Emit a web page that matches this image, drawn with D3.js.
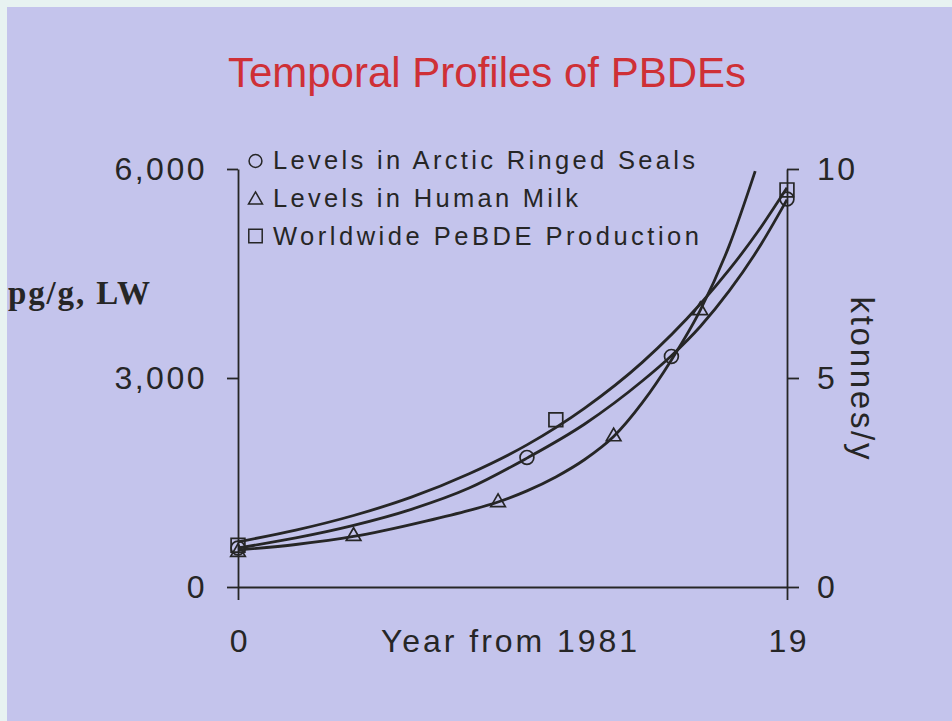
<!DOCTYPE html>
<html>
<head>
<meta charset="utf-8">
<script src="https://cdn.jsdelivr.net/npm/d3@7"></script>
<style>
  html, body { margin: 0; padding: 0; background: #c4c4ec; }
  svg { display: block; }
</style>
</head>
<body>
<svg id="chart" width="952" height="721"></svg>
<script>
// Measured levels (pg/g lipid weight) and production (ktonnes/y), by year from 1981
const sealYears = [0, 10, 15, 19];
const sealValues = [560, 1860, 3310, 5570];
const milkYears = [0, 4, 9, 13, 16];
const milkValues = [500, 730, 1215, 2160, 3970];
const prodYears = [0, 11, 19];
const prodValues = [1.0, 4.0, 9.5];

// Fitted trend curves
const sealFitYears = [0, 2, 4, 6, 8, 10, 12, 14, 15, 16, 17, 18, 19];
const sealFitValues = [560, 705, 885, 1115, 1420, 1850, 2340, 2960, 3320, 3740, 4250, 4850, 5560];
const milkFitYears = [0, 2, 4, 5, 6.5, 8, 9, 10, 11, 12, 13, 14, 15, 16, 17, 17.9];
const milkFitValues = [531, 610, 725, 805, 945, 1100, 1220, 1380, 1580, 1830, 2160, 2650, 3260, 3975, 4900, 5970];
const prodFitYears = [0, 2, 4, 6, 8, 10, 12, 14, 16, 17, 18, 19];
const prodFitValues = [1.08, 1.36, 1.71, 2.15, 2.71, 3.40, 4.28, 5.38, 6.77, 7.59, 8.51, 9.55];

// Axis ticks and labels
const leftTicks = [0, 3000, 6000];
const rightTicks = [0, 5, 10];
const xTicks = [0, 19];
const legendLabels = ["Levels in Arctic Ringed Seals", "Levels in Human Milk", "Worldwide PeBDE Production"];
const legendWidths = [422, 305, 426];

const svg = d3.select("#chart");
const INK = "#262626";
const SANS = "'Liberation Sans', Arial, Helvetica, sans-serif";

// backdrop
svg.append("rect").attr("width", 952).attr("height", 721).attr("fill", "#e7f2f1");
svg.append("rect").attr("x", 7).attr("y", 7).attr("width", 945).attr("height", 714).attr("fill", "#c4c4ec");

const x = d3.scaleLinear().domain([0, 19]).range([238, 787]);
const yL = d3.scaleLinear().domain([0, 6000]).range([587, 169]);
const yR = d3.scaleLinear().domain([0, 10]).range([587, 169]);

// title
svg.append("text")
  .attr("x", 487).attr("y", 87)
  .attr("text-anchor", "middle")
  .attr("font-family", SANS).attr("font-size", 42)
  .attr("fill", "#cf3036")
  .text("Temporal Profiles of PBDEs");

function styleAxis(g) {
  g.selectAll("path.domain, .tick line").attr("stroke", INK).attr("stroke-width", 1.8);
  g.selectAll("text")
    .attr("font-family", SANS).attr("font-size", 32)
    .attr("fill", INK).style("letter-spacing", "2.5px");
}

// left axis
const gL = svg.append("g").attr("transform", "translate(238,0)")
  .call(d3.axisLeft(yL).tickValues(leftTicks).tickSize(11).tickSizeOuter(0)
    .tickPadding(20).tickFormat(d3.format(",")));
styleAxis(gL);

// right axis
const gR = svg.append("g").attr("transform", "translate(787,0)")
  .call(d3.axisRight(yR).tickValues(rightTicks).tickSize(12).tickSizeOuter(0)
    .tickPadding(18).tickFormat(d3.format("d")));
styleAxis(gR);

// bottom axis
const gX = svg.append("g").attr("transform", "translate(0,587)")
  .call(d3.axisBottom(x).tickValues(xTicks).tickSize(13).tickSizeOuter(0)
    .tickPadding(29).tickFormat(d3.format("d")));
styleAxis(gX);
gX.selectAll("text").attr("dx", "1.3px");

// axis titles
svg.append("text")
  .attr("x", 509).attr("y", 652).attr("text-anchor", "middle")
  .attr("font-family", SANS).attr("font-size", 32).attr("fill", INK)
  .attr("textLength", 256).attr("lengthAdjust", "spacing")
  .text("Year from 1981");

svg.append("text")
  .attr("x", 8).attr("y", 304)
  .attr("font-family", "'Liberation Serif', 'Times New Roman', serif")
  .attr("font-weight", "bold").attr("font-size", 33).attr("fill", INK)
  .attr("textLength", 142).attr("lengthAdjust", "spacing")
  .text("pg/g, LW");

svg.append("text")
  .attr("transform", "translate(851,378) rotate(90)")
  .attr("text-anchor", "middle")
  .attr("font-family", SANS).attr("font-size", 33).attr("fill", INK)
  .attr("textLength", 163).attr("lengthAdjust", "spacing")
  .text("ktonnes/y");

// trend curves
const curveLeft = d3.line().x(d => x(d[0])).y(d => yL(d[1])).curve(d3.curveMonotoneX);
const curveRight = d3.line().x(d => x(d[0])).y(d => yR(d[1])).curve(d3.curveMonotoneX);
const curves = svg.append("g").attr("fill", "none").attr("stroke", INK).attr("stroke-width", 2.8);
curves.append("path").attr("d", curveRight(d3.zip(prodFitYears, prodFitValues)));
curves.append("path").attr("d", curveLeft(d3.zip(sealFitYears, sealFitValues)));
curves.append("path").attr("d", curveLeft(d3.zip(milkFitYears, milkFitValues)));

// markers
const circleSym = d3.symbol().type(d3.symbolCircle).size(150);
const triSym = d3.symbol().type(d3.symbolTriangle).size(92);
const sqSym = d3.symbol().type(d3.symbolSquare).size(190);
const marks = svg.append("g").attr("fill", "none").attr("stroke", INK).attr("stroke-width", 1.7);

marks.selectAll("path.seal").data(d3.zip(sealYears, sealValues)).join("path")
  .attr("class", "seal").attr("d", circleSym)
  .attr("transform", d => `translate(${x(d[0])},${yL(d[1])})`);
marks.selectAll("path.milk").data(d3.zip(milkYears, milkValues)).join("path")
  .attr("class", "milk").attr("d", triSym)
  .attr("transform", d => `translate(${x(d[0])},${yL(d[1])})`);
marks.selectAll("path.prod").data(d3.zip(prodYears, prodValues)).join("path")
  .attr("class", "prod").attr("d", sqSym)
  .attr("transform", d => `translate(${x(d[0])},${yR(d[1])})`);

// legend
const legendSyms = [d3.symbol().type(d3.symbolCircle).size(130),
                    d3.symbol().type(d3.symbolTriangle).size(85),
                    d3.symbol().type(d3.symbolSquare).size(180)];
const legendRows = [161, 200, 236];
const legendBase = [169, 207, 245];
const legend = svg.append("g");
legendLabels.forEach((label, i) => {
  legend.append("path")
    .attr("d", legendSyms[i]())
    .attr("transform", `translate(255.5,${legendRows[i]})`)
    .attr("fill", "none").attr("stroke", INK).attr("stroke-width", 1.5);
  legend.append("text")
    .attr("x", 273).attr("y", legendBase[i])
    .attr("font-family", SANS).attr("font-size", 25.5).attr("fill", INK)
    .attr("textLength", legendWidths[i]).attr("lengthAdjust", "spacing")
    .text(label);
});
</script>
</body>
</html>
